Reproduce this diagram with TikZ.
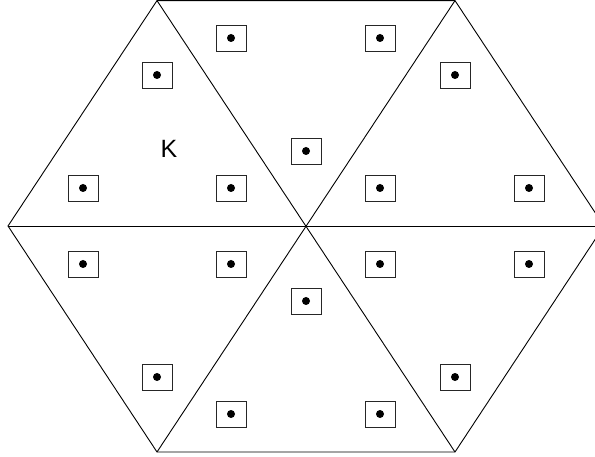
\documentclass[tikz,border=0pt]{standalone}
\usepackage{fontspec}
\setmainfont{Liberation Sans}
\begin{document}
\begin{tikzpicture}[x=1pt,y=-1pt,
  edge/.style={line width=0.9pt, black},
  cell/.style={draw=black!85, line width=0.9pt, minimum width=30pt, minimum height=26pt, inner sep=0pt,
    path picture={\fill[black] (path picture bounding box.center) circle (4pt);}},
  lbl/.style={font=\fontsize{25}{29}\selectfont, inner sep=0pt}]
\useasboundingbox (0,0) rectangle (595,457);
\clip (0,0) rectangle (595,457);
\coordinate (C) at (306,226);
\coordinate (L) at (8,226);
\coordinate (R) at (604,226);
\coordinate (TL) at (157,0.6);
\coordinate (TR) at (455,0.6);
\coordinate (BL) at (157,452);
\coordinate (BR) at (455,452);
\draw[edge] (L) -- (TL) -- (TR) -- (R) -- (BR) -- (BL) -- cycle;
\draw[edge] (L) -- (R);
\draw[edge] (TL) -- (BR);
\draw[edge] (TR) -- (BL);
% top-left triangle
\node[cell] (a1) at (157,75) {};
\node[cell] (a2) at (83,188) {};
\node[cell] (a3) at (231,188) {};
% top triangle
\node[cell] (b1) at (231,38) {};
\node[cell] (b2) at (380,38) {};
\node[cell] (b3) at (306,151) {};
% top-right triangle
\node[cell] (c1) at (455,75) {};
\node[cell] (c2) at (380,188) {};
\node[cell] (c3) at (529,188) {};
% bottom-left triangle
\node[cell] (d1) at (83,264) {};
\node[cell] (d2) at (231,264) {};
\node[cell] (d3) at (157,377) {};
% bottom triangle
\node[cell] (e1) at (306,301) {};
\node[cell] (e2) at (231,414) {};
\node[cell] (e3) at (380,414) {};
% bottom-right triangle
\node[cell] (f1) at (380,264) {};
\node[cell] (f2) at (529,264) {};
\node[cell] (f3) at (455,377) {};
\node[lbl] (k) at (169,149) {K};
\end{tikzpicture}
\end{document}
